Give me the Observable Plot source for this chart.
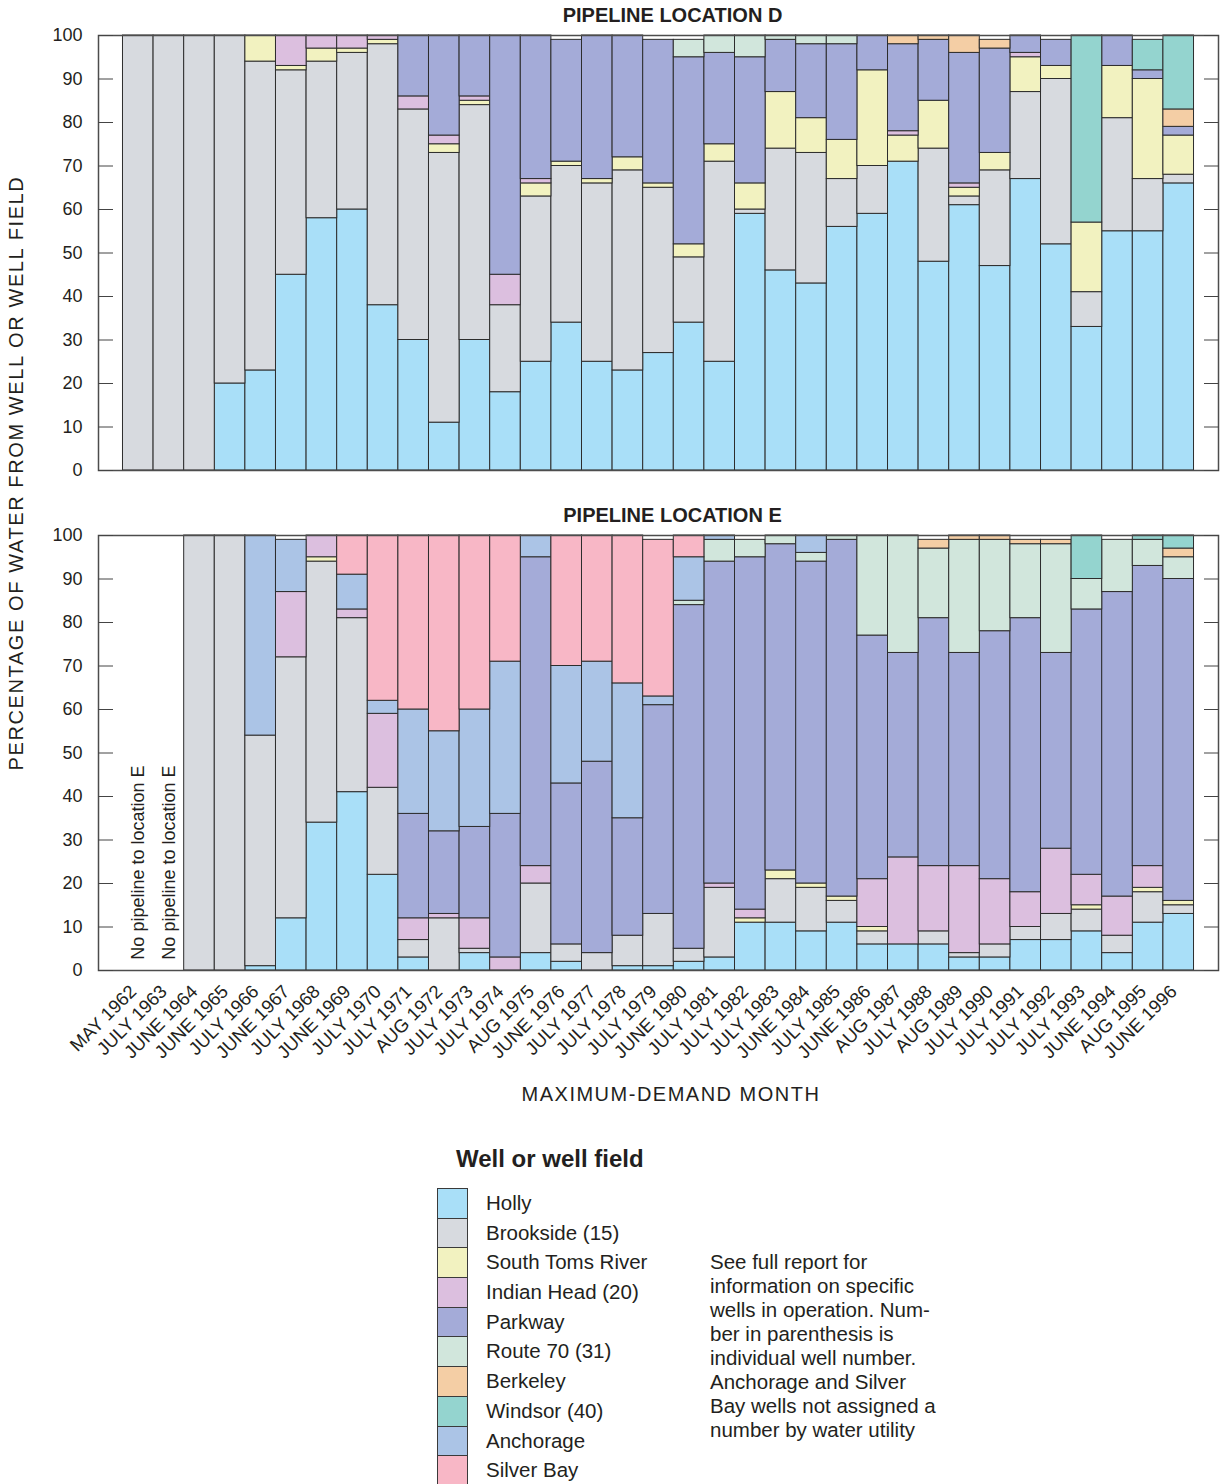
<!DOCTYPE html>
<html>
<head>
<meta charset="utf-8">
<script src="https://cdn.jsdelivr.net/npm/d3@7"></script>
<script src="https://cdn.jsdelivr.net/npm/@observablehq/plot@0.6"></script>
<style>
  html, body { margin: 0; padding: 0; background: #fff; }
  body { width: 1225px; height: 1484px; overflow: hidden; font-family: "Liberation Sans", Arial, Helvetica, sans-serif; color: #231f20; }
  #wrap { position: relative; width: 1225px; height: 1484px; }
  #chart { position: absolute; left: 0; top: 0; }
  #legend-title { position: absolute; left: 456px; top: 1145px; font-size: 24px; font-weight: bold; }
  #swatches { position: absolute; left: 437px; top: 1188px; }
  .row { position: relative; height: 29.7px; }
  .sw { position: absolute; left: 0; top: 0; width: 31px; height: 30.7px; box-sizing: border-box; border: 1px solid #3a3a3a; }
  .lab { position: absolute; left: 49px; top: 0; height: 29.7px; line-height: 29.7px; font-size: 20.5px; white-space: nowrap; }
  #note { position: absolute; left: 710px; top: 1250px; font-size: 20.5px; line-height: 24px; }
</style>
</head>
<body>
<div id="wrap">
  <div id="chart"></div>
  <div id="legend-title">Well or well field</div>
  <div id="swatches"></div>
  <div id="note">See full report for<br>information on specific<br>wells in operation. Num-<br>ber in parenthesis is<br>individual well number.<br>Anchorage and Silver<br>Bay wells not assigned a<br>number by water utility</div>
</div>
<script>
// ---------------- DATA ----------------
const months = ["MAY 1962","JULY 1963","JUNE 1964","JUNE 1965","JULY 1966","JUNE 1967","JULY 1968","JUNE 1969","JULY 1970","JULY 1971","AUG 1972","JULY 1973","JULY 1974","AUG 1975","JUNE 1976","JULY 1977","JULY 1978","JULY 1979","JUNE 1980","JULY 1981","JULY 1982","JULY 1983","JUNE 1984","JULY 1985","JUNE 1986","AUG 1987","JULY 1988","AUG 1989","JULY 1990","JULY 1991","JULY 1992","JULY 1993","JUNE 1994","AUG 1995","JUNE 1996"];

// Stacking order (bottom to top)
const seriesOrder = ["Holly","Brookside (15)","South Toms River","Indian Head (20)","Parkway","Route 70 (31)","Anchorage","Berkeley","Windsor (40)","Silver Bay"];
const seriesColors = ["#a9dff8","#d7dadf","#f2f2c0","#dcbfdf","#a4abd8","#d1e6dc","#abc4e6","#f4cea5","#94d4cf","#f8b7c6"];
// Legend order
const legendOrder = ["Holly","Brookside (15)","South Toms River","Indian Head (20)","Parkway","Route 70 (31)","Berkeley","Windsor (40)","Anchorage","Silver Bay"];

const panels = ["D","E"];
const panelTitles = ["PIPELINE LOCATION D","PIPELINE LOCATION E"];
const yTicks = [0,10,20,30,40,50,60,70,80,90,100];

// Pipeline location D (percent)
const D_holly      = [0,0,0,20,23,45,58,60,38,30,11,30,18,25,34,25,23,27,34,25,59,46,43,56,59,71,48,61,47,67,52,33,55,55,66];
const D_brookside  = [100,100,100,80,71,47,36,36,60,53,62,54,20,38,36,41,46,38,15,46,1,28,30,11,11,0,26,2,22,20,38,8,26,12,2];
const D_southToms  = [0,0,0,0,6,1,3,1,1,0,2,1,0,3,1,1,3,1,3,4,6,13,8,9,22,6,11,2,4,8,3,16,12,23,9];
const D_indianHead = [0,0,0,0,0,7,3,3,1,3,2,1,7,1,0,0,0,0,0,0,0,0,0,0,0,1,0,1,0,1,0,0,0,0,0];
const D_parkway    = [0,0,0,0,0,0,0,0,0,14,23,14,55,33,28,33,28,33,43,21,29,12,17,22,8,20,14,30,24,4,6,0,7,2,2];
const D_route70    = [0,0,0,0,0,0,0,0,0,0,0,0,0,0,0,0,0,0,4,4,5,1,2,2,0,0,0,0,0,0,0,0,0,0,0];
const D_berkeley   = [0,0,0,0,0,0,0,0,0,0,0,0,0,0,0,0,0,0,0,0,0,0,0,0,0,2,1,4,2,0,0,0,0,0,4];
const D_windsor    = [0,0,0,0,0,0,0,0,0,0,0,0,0,0,0,0,0,0,0,0,0,0,0,0,0,0,0,0,0,0,0,43,0,7,17];

// Pipeline location E (percent)
const E_holly      = [0,0,0,0,1,12,34,41,22,3,0,4,0,4,2,0,1,1,2,3,11,11,9,11,6,6,6,3,3,7,7,9,4,11,13];
const E_brookside  = [0,0,100,100,53,60,60,40,20,4,12,1,0,16,4,4,7,12,3,16,0,10,10,5,3,0,3,1,3,3,6,5,4,7,2];
const E_southToms  = [0,0,0,0,0,0,1,0,0,0,0,0,0,0,0,0,0,0,0,0,1,2,1,1,1,0,0,0,0,0,0,1,0,1,1];
const E_indianHead = [0,0,0,0,0,15,5,2,17,5,1,7,3,4,0,0,0,0,0,1,2,0,0,0,11,20,15,20,15,8,15,7,9,5,0];
const E_parkway    = [0,0,0,0,0,0,0,0,0,24,19,21,33,71,37,44,27,48,79,74,81,75,74,82,56,47,57,49,57,63,45,61,70,69,74];
const E_route70    = [0,0,0,0,0,0,0,0,0,0,0,0,0,0,0,0,0,0,1,5,4,2,2,1,23,27,16,26,21,17,25,7,12,6,5];
const E_anchorage  = [0,0,0,0,46,12,0,8,3,24,23,27,35,5,27,23,31,2,10,1,0,0,4,0,0,0,0,0,0,0,0,0,0,0,0];
const E_berkeley   = [0,0,0,0,0,0,0,0,0,0,0,0,0,0,0,0,0,0,0,0,0,0,0,0,0,0,2,1,1,1,1,0,0,0,2];
const E_windsor    = [0,0,0,0,0,0,0,0,0,0,0,0,0,0,0,0,0,0,0,0,0,0,0,0,0,0,0,0,0,0,0,10,0,1,3];
const E_silverBay  = [0,0,0,0,0,0,0,9,38,40,45,40,29,0,30,29,34,36,5,0,0,0,0,0,0,0,0,0,0,0,0,0,0,0,0];

// Months without pipeline to E
const noPipelineMonths = ["MAY 1962","JULY 1963"];
const noPipelineText = "No pipeline to location E";

// ---------------- BUILD TABLE ----------------
const seriesD = [D_holly, D_brookside, D_southToms, D_indianHead, D_parkway, D_route70, null, D_berkeley, D_windsor, null];
const seriesE = [E_holly, E_brookside, E_southToms, E_indianHead, E_parkway, E_route70, E_anchorage, E_berkeley, E_windsor, E_silverBay];
const rows = [];
[[panels[0], seriesD],[panels[1], seriesE]].forEach(([panel, arrs]) => {
  arrs.forEach((arr, si) => {
    if (!arr) return;
    arr.forEach((v, mi) => {
      if (v > 0) rows.push({panel, month: months[mi], series: seriesOrder[si], value: v});
    });
  });
});
const titleRows = panels.map((p, i) => ({panel: p, title: panelTitles[i]}));
const noPipeRows = noPipelineMonths.map(m => ({panel: "E", month: m, text: noPipelineText}));

const FONT = '"Liberation Sans", Arial, Helvetica, sans-serif';
const INK = "#231f20";

const chart = Plot.plot({
  width: 1225,
  height: 1120,
  marginTop: 35,
  marginBottom: 150,
  marginLeft: 98,
  marginRight: 7,
  style: {fontFamily: FONT, fontSize: "18px", color: INK, background: "white"},
  x: {domain: months, paddingInner: 0, paddingOuter: 0.8, round: false},
  y: {domain: [0, 100]},
  fy: {domain: panels, paddingInner: 0.13, paddingOuter: 0, round: false, axis: null},
  color: {domain: seriesOrder, range: seriesColors},
  marks: [
    Plot.barY(rows, {x: "month", y: "value", fill: "series", fy: "panel", order: seriesOrder, stroke: "#2d2d2d", strokeWidth: 1, inset: 0}),
    Plot.frame({stroke: "#4d4d4d", strokeWidth: 1.5}),
    Plot.axisY({anchor: "left", ticks: yTicks, tickSize: 0, tickPadding: 16, label: null, fontSize: 18, fill: INK}),
    Plot.axisY({anchor: "left", ticks: yTicks, tickSize: 15, dx: 15, tickFormat: () => "", label: null, stroke: "#444"}),
    Plot.axisY({anchor: "right", ticks: yTicks, tickSize: 15, dx: -15, tickFormat: () => "", label: null, stroke: "#444"}),
    Plot.axisX({anchor: "bottom", tickSize: 0, tickRotate: -45, tickPadding: 18, dx: -5, label: null, fontSize: 18.5, fill: INK}),
    Plot.text(titleRows, {fy: "panel", text: "title", frameAnchor: "top", lineAnchor: "middle", dy: -20, dx: 14, fontWeight: "bold", fontSize: 20, fill: INK}),
    Plot.text(noPipeRows, {fy: "panel", x: "month", y: 2.5, text: "text", rotate: -90, textAnchor: "start", fontSize: 18, fill: INK})
  ]
});

const svg = d3.select(chart);
svg.append("text")
  .attr("transform", "translate(18,473) rotate(-90)")
  .attr("text-anchor", "middle")
  .attr("dominant-baseline", "middle")
  .attr("font-family", FONT)
  .attr("font-size", 20)
  .attr("letter-spacing", 1.6)
  .attr("fill", INK)
  .text("PERCENTAGE OF WATER FROM WELL OR WELL FIELD");
svg.append("text")
  .attr("x", 671).attr("y", 1096)
  .attr("text-anchor", "middle")
  .attr("dominant-baseline", "middle")
  .attr("font-family", FONT)
  .attr("font-size", 20)
  .attr("letter-spacing", 1.5)
  .attr("fill", INK)
  .text("MAXIMUM-DEMAND MONTH");

document.getElementById("chart").appendChild(chart);

// ---------------- LEGEND ----------------
const colorOf = Object.fromEntries(seriesOrder.map((s, i) => [s, seriesColors[i]]));
const sw = document.getElementById("swatches");
legendOrder.forEach(name => {
  const row = document.createElement("div");
  row.className = "row";
  const box = document.createElement("div");
  box.className = "sw";
  box.style.background = colorOf[name];
  const lab = document.createElement("div");
  lab.className = "lab";
  lab.textContent = name;
  row.appendChild(box);
  row.appendChild(lab);
  sw.appendChild(row);
});
</script>
</body>
</html>
